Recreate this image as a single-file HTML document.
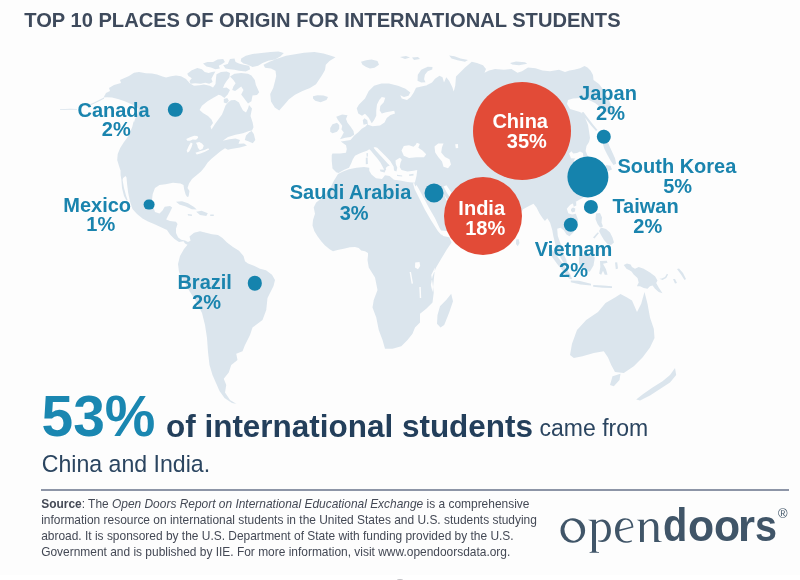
<!DOCTYPE html>
<html><head><meta charset="utf-8"><title>Top 10 places of origin</title>
<style>
html,body{margin:0;padding:0;background:#fff;}
#bg{position:absolute;left:0;top:0;width:800px;height:575px;background:#fdfdfd;}
#mark{position:absolute;left:397.2px;top:579px;width:6px;height:2.4px;border-radius:50%;background:#c4c4c8;}
body{width:800px;height:580px;position:relative;overflow:hidden;font-family:"Liberation Sans",sans-serif;}
.t{position:absolute;white-space:nowrap;line-height:1;}
.ttl{font-weight:bold;color:#3e4a5c;}
.lb{font-weight:bold;color:#1a84ae;}
.wl{color:#fff;}
.big{font-weight:bold;color:#1a87b1;}
.mid{font-weight:bold;color:#233f5b;}
.reg{color:#2b4560;}
.dot{position:absolute;border-radius:50%;background:#1583ad;transform:translate(-50%,-50%);}
.red{position:absolute;border-radius:50%;background:#e24b37;transform:translate(-50%,-50%);}
#map{position:absolute;left:0;top:0;filter:blur(0.45px);}
#txt{position:absolute;left:0;top:0;width:800px;height:580px;will-change:transform;}
#hr{position:absolute;left:41.2px;top:489px;width:747.8px;height:2px;background:#8d95a7;}
#src{position:absolute;left:41.2px;top:495.9px;font-size:11.95px;line-height:16px;color:#444955;white-space:nowrap;}
.dl{font-weight:bold;color:#405568;transform-origin:0 0;}
#reg{left:778px;top:507.3px;font-size:13px;color:#405568;}
</style></head><body>
<div id="bg"></div><div id="mark"></div>
<svg id="map" width="800" height="580" viewBox="0 0 800 580"><path fill="#dbe5ed" d="M129 76 L134 72.8 L139 72 L146 73.2 L152 73.5 L157 74.5 L162.5 76.5 L166 77.5 L171 76.2 L176 75.6 L181 76.2 L186 79 L190 83.5 L194 85.7 L199.6 85.3 L204 84.6 L209.7 85.7 L213 87.5 L215.5 84 L216 78 L216.5 74.2 L221 72 L226.6 71.4 L230 73.1 L229.4 77.6 L226.6 81 L224.4 84.4 L223 88 L226.6 87.5 L230 90 L227.7 94.5 L224.4 97.9 L221 95.5 L218.7 94.7 L213 97.9 L207.5 101.2 L201.9 105.7 L199.6 110 L203 113 L208 116 L211.5 119.5 L213 123 L210.5 126.5 L211.5 129.5 L215 124 L219 118.5 L222 114.5 L224 109.5 L225.5 105.5 L228 102.5 L231 100.3 L235 100 L239 102.5 L240.5 106 L243 110.5 L246 112.5 L248 108.5 L249 105 L252 108.5 L250.5 116 L252.7 122.7 L253.5 127.2 L252 130.5 L249 131 L243 133.2 L235.5 134.7 L228 137 L222.7 140.7 L229.5 139.2 L235.5 138.5 L240 140 L238.5 143.7 L244 143.5 L247 145.5 L240 147.5 L231 149 L228 149.7 L225 148.2 L220.5 151.2 L216 155 L211.5 158.7 L207.7 162.5 L204.7 167 L201 171.5 L196.5 175.2 L192 179 L189 183.5 L187.5 188 L189.5 191 L188.6 196.4 L187.2 197 L185.7 194.7 L184.2 189.5 L183.5 185 L180.5 183.5 L173 182.7 L165.5 184.2 L159.5 185 L155 188 L152.7 194 L152 200 L153.5 207.5 L155 212 L159.5 213.5 L162.5 210.5 L164.7 206.7 L170 206 L172.2 207.5 L170 212 L167.7 216.5 L166.2 219.5 L170 221 L176 221.7 L177.5 224 L176 228.5 L176 233 L178.2 237.5 L181.2 239.7 L185 240.5 L188 242 L191 240.5 L192.5 238 L194 241 L191.5 244.5 L187.5 244.7 L185 243.5 L183.5 241.2 L179 242 L174.5 239 L170 234.5 L167 230 L160.5 227 L154 224 L148 221.5 L142.5 218.5 L137 214 L132.5 209 L130 201.5 L128.2 193 L127.2 185 L126.5 177.5 L125.5 176 L123.2 178 L121 172 L119 166 L117.2 160 L117.7 154 L120.2 148 L124 142 L128.5 136 L132.2 127 L133.7 121 L135.5 129.5 L133 125.5 L135 119 L138 113 L138.5 108.5 L136 106.5 L130 103.5 L124 101 L118 99 L112 97.5 L107 97.2 L103.6 97.6 L106 93 L110 91 L109 88 L114 85 L121 83 L120 80ZM120.5 170 L123.5 176 L122.6 180 L124 188 L126 195.5 L127.6 200 L126.4 200.5 L124 196 L122 188 L121.4 180 L120.6 175ZM60 109.2 L70 108.8 L77 109 L77 109.7 L68 109.8 L60 109.9ZM86 106 L93 103 L100 99.5 L104 97.5 L104 98.8 L97 102.3 L88 106.6ZM246 135.5 L249.3 132.2 L251.7 131 L253.8 134 L255.3 140 L252.8 143.3 L248.2 141.2 L244.8 140ZM176 201.8 L182 201.2 L188 203.3 L194 206.9 L196.7 209.6 L191.8 209.3 L185.8 206.4 L179.3 204.5ZM196.2 211.7 L201.5 210.8 L207.8 213.2 L206.3 215.9 L200 215ZM210.2 214.4 L213.8 214.6 L213.8 215.9 L210.2 215.9ZM187.7 214.1 L191.9 214.4 L191.9 215.9 L188 215.6ZM187.2 73.7 L191.8 70.3 L197.4 68.1 L201.9 69.2 L204.7 72 L208.6 73.1 L212 72 L215.4 71.4 L213.1 75.4 L211.4 78.8 L212.6 82.1 L209.2 83.8 L205.2 82.7 L200.8 83.8 L195.1 83.2 L190.6 83.8 L189.5 81 L191.8 78.2 L188.4 75.9ZM203 63.6 L207.5 61.9 L213.1 61.9 L217.6 59.6 L223.2 59.1 L224.9 61.9 L222.1 64.1 L218.8 65.8 L219.9 68.6 L215.4 69.2 L210.9 67.5 L206.4 66.4ZM223.2 65.2 L227.8 64.1 L230 59.1 L234.5 58.5 L235.6 61.9 L239 63.6 L243.5 64.7 L249.1 65.8 L250.2 69.2 L245.8 71.4 L239 70.7 L234.5 69.8 L230 69.2 L225.5 68.6ZM241.2 58.5 L245.8 55.7 L252.5 54 L261.5 52.9 L270.5 52 L278.4 51.5 L283.8 53.1 L280.6 56.2 L275 59.4 L268.2 60.8 L262.6 63 L258.1 65.8 L252.5 66.9 L248 64.7 L243.5 63.6 L240.7 61.3ZM230 76.5 L234.5 73.7 L241.2 73.1 L248 73.7 L251.4 75.4 L254.8 79.9 L255.9 84.9 L259.2 92.2 L257 95.1 L252.5 95.6 L251.4 101.2 L248 103.5 L244.6 99 L241.2 94.5 L243.5 90 L241.2 86.6 L237.9 88.9 L235.1 91.1 L232.2 90 L233.4 86.6 L235.6 83.2 L233.4 79.9ZM223.8 99 L227.2 97.9 L228.9 100.7 L226.6 103.5 L223.8 102.4ZM263.5 64.8 L269.5 61.8 L277 58.8 L286 55.8 L295 54.2 L304 52.8 L314.5 52 L323.5 53.5 L331 55.8 L335.5 57.2 L329.5 61 L325.8 64.8 L325 70 L322 75.2 L319 79.8 L316 84.2 L310 88 L302.5 91 L295 94.8 L289 99.2 L284.5 104.5 L279.2 110.5 L274.8 107.5 L271 101.5 L270.2 94 L273.2 88 L274.8 82 L276.2 76 L275.5 70.8 L271 68.5 L265 67.8ZM313 96.2 L317.5 95.2 L323.5 95.5 L328 97 L326.5 100 L320.5 102.2 L315.2 100.8 L313 98.5ZM361 61.8 L366.2 60.2 L371.5 59.5 L377.5 61 L379 64.8 L374.5 67.8 L370 68.5 L366.2 67 L362.5 64.8ZM189.5 236.5 L194 232.75 L200 231.25 L206 232.75 L212 234.25 L218 235 L222.5 238 L227 242.5 L233 247 L239 250.75 L243.5 256 L245 261.25 L248 263.5 L254 265.75 L260 268.75 L266 270.25 L272 274.75 L275 280 L273.5 286 L270.5 292 L267.5 298 L266.25 310 L262.5 320 L252.5 327.5 L250 335 L245 345 L242.5 351.25 L236.25 353.75 L237.5 360 L231.25 365 L228.75 372.5 L223.75 378.75 L226.25 385 L225 392.5 L230 400 L236.25 403.75 L240 404.5 L232 403 L224.5 398 L219.5 391 L216 383 L212.5 375 L209.5 365 L208 352 L207 338 L205 325 L202 313 L197 303 L190 292 L184 282 L179 272 L178 264 L180 256 L184 249 L187.5 244.7 L191.5 244.5ZM338.5 173.75 L343 171.5 L349 169.25 L356.5 167.75 L364 167 L369.25 167.75 L369.25 170.75 L371.5 174.5 L376 178.25 L382 179 L385 175.25 L389.5 176 L394 179.75 L400 180.5 L407.5 182 L415 182.75 L418.492 191.759 L423.769 204.07 L429.045 214.623 L434.322 223.417 L439.598 231.332 L443.116 236.08 L449.271 237.136 L451.558 242.412 L446.633 249.799 L441.357 258.593 L436.08 267.387 L432.563 276.181 L430.804 284.975 L432.563 292.01 L435 267.5 L431.25 275 L432.5 282.5 L433.75 292.5 L432.5 302.5 L426.25 308.75 L420 313.75 L420 322.5 L415 327.5 L412.5 333.75 L407.5 340 L401.25 346.25 L392.5 348.75 L385 348.75 L382.5 340 L378.75 330 L376.25 317.5 L372.5 307.5 L373.75 300 L377.5 290 L375 277.5 L368.75 267.5 L367.5 260 L368 255.6 L368 253 L365 251.2 L361.2 250.6 L358.7 248 L355 246.9 L350 247.2 L343.7 248.7 L337.5 250 L333 251.2 L330 249.4 L325 245.6 L321.2 241.2 L317.5 236.2 L314.4 231.2 L312.5 225.6 L313 220 L315 213.7 L313.7 207.5 L316.2 202.5 L320 199.5 L323.5 197 L326.5 192.5 L331 186.5 L334 180.5 L337.7 174.5ZM451.2 293.8 L453 301.2 L449.2 312.5 L444.2 325 L440.5 327.5 L437 323.8 L437.5 315 L440 306.2 L446.2 300ZM340.75 141.5 L346 140.75 L350.5 140 L354.25 135.5 L358 132.5 L361.75 128.75 L365.5 126.5 L367.75 123.8 L363.5 124.75 L362.75 120.25 L364.55 118.3 L367.25 120.25 L368 124.75 L372.5 126.25 L380 125.5 L384.5 122.5 L386.75 118 L390.5 115 L395 113.5 L394.25 110.8 L386 112.3 L381.8 113.5 L379.7 110.5 L380.3 106 L383.75 102.25 L385.25 97.75 L381.8 97 L379.25 100 L377 104.5 L376.25 110.5 L376.25 115.75 L374 120.25 L371.75 123.25 L368.75 117.7 L365 113.8 L362 115.75 L358.25 113.5 L356.75 108.25 L359 104.5 L365 98.5 L368.75 91 L374 85.75 L381.5 83.5 L389 83.5 L398 85.75 L405.5 88.75 L410.3 92.5 L408.5 95.8 L404 97 L400.25 95.2 L401.75 98.5 L407 100 L410.75 97 L413.75 92.5 L416 87.7 L423.5 85.9 L431 84.4 L426 85.5 L432 82.5 L435 78.75 L439.5 75.75 L442.5 77.25 L444 82.5 L446.25 77.25 L449.25 81 L452.25 87 L453.75 91.5 L455.25 85.5 L456 76.5 L459 73.5 L462 70.5 L465 67.5 L469.5 63.75 L471.75 61.8 L477 63 L483 65.25 L486 69 L484.5 72.75 L489 70.5 L495 69 L504 69.75 L511.5 69 L517.5 72.75 L522 71.25 L528 67.5 L535.5 68.25 L542.5 70.5 L550 71.2 L559 69.7 L565 72 L569.5 70.5 L574 69.7 L580 68.2 L584.5 66 L587.5 67.5 L590.5 70.5 L593 75 L593.5 80 L599 84 L602 88 L605 93 L608 98 L611 105 L612 112 L609 113.5 L605 111 L599 106 L595 103 L589 100 L580 98 L573 98.5 L568 100 L567 104 L570 109 L580 112 L584 115 L586 120 L588 125 L589 131 L590 138 L589 142 L586.5 146 L585.6 151 L587.5 155.5 L591 160 L595.5 163.5 L592.5 168 L589.5 165 L585 160.5 L580.5 156 L576 157.5 L573.75 160.5 L577.5 165 L581.25 171 L583.5 177 L586.75 188 L586 194 L583 197.75 L578.5 200.3 L573.25 203.3 L570.25 204.8 L566.8 208.7 L568.3 213.2 L572.2 214.4 L575.8 213.8 L577.9 219.5 L577 227 L572.8 233 L569.5 236.3 L566.5 234.5 L563.8 230.3 L560.5 227.75 L557.2 228.8 L557.8 236 L560.5 243.5 L562.75 249.5 L564 255 L566.25 259.5 L567 264 L565.2 264.75 L562.5 261 L559.5 255.75 L556.5 249 L555 243 L553.3 236 L552.25 230 L550 222.5 L547.3 218.3 L544.9 221 L542.5 218 L539.5 213.5 L536.5 207.5 L533.5 203.75 L529 206 L523 209.3 L520 215 L517 226 L513 238 L509 241 L505 236 L496 226 L482 216 L470 214 L462 211 L456 208 L452 203 L447 199 L444 194.5 L446 199.5 L450 206 L455 212 L461 216 L462 221 L455 228 L446 233 L437 236.5 L431 231 L427 222 L422 212 L417 203 L412.5 193 L412 186 L415 182 L416.5 176 L417.25 170 L413.5 170.75 L407.5 171.5 L401.5 170 L399.7 167 L400.45 162.8 L401.8 159.8 L400 157.7 L397.75 158.9 L395.5 160.4 L395.8 164 L397.3 167.75 L396.4 171.5 L394 170.6 L393.7 166.7 L390.25 161 L385.75 156.2 L381.25 151.7 L377.2 147.8 L374.8 146.9 L373.6 147.8 L376 150.8 L379.9 155 L384.1 159.5 L387.7 163.4 L389.8 165.5 L387.25 166.4 L385.75 167.9 L386.2 169.7 L384.55 170.45 L382.75 167 L380.5 162.8 L377.2 158.3 L373.75 154.25 L370.75 150.5 L369.25 149.3 L367 150.8 L363.25 152 L359.5 153.5 L355 155.75 L352.75 159.5 L351.25 163.25 L349 167.75 L343.75 170 L338.5 173 L336.25 172.25 L332.5 168.5 L331.75 161 L331.75 155 L332.5 153.5 L340 153.5 L346 152.75 L346.75 149 L346 145.25ZM336.2 116.8 L342.2 114.5 L347.5 115.2 L346 119 L347.5 122.8 L350.5 126.5 L353.5 131 L354.2 134.8 L350.5 137 L345.2 137.8 L340 139.2 L342.2 135.5 L343.8 132.5 L341.5 129.5 L342.2 125.8 L340 122.8 L337.8 119.8ZM330.2 128 L332.5 124.2 L337 122.8 L339.2 125 L339.2 128.8 L337 131.8 L332.5 133.2 L330.2 131.8ZM379.8 169.4 L385.8 169.7 L384.6 172.4 L380.5 171.5ZM365.8 157.7 L367.6 157.4 L367.9 164 L365.8 164.3ZM366.4 153.2 L367.9 152.9 L367.9 156.5 L366.7 156.8ZM397 174.8 L402.2 175.4 L402.2 176.4 L397 176ZM409 174.5 L413.5 173.8 L413.5 175.4 L409.3 176ZM417.5 80.7 L417.8 74.7 L421.2 69.8 L427.7 66.8 L432.5 66.9 L432.2 69.6 L427.7 71.2 L424.9 74.7 L424.1 79.2 L425.5 82.2 L421.2 82.4ZM449.2 55.5 L454.5 56.2 L460.5 58.5 L468 60 L465 61.8 L457.5 60.3 L451.5 58.5ZM510 63 L516 61.5 L525 62.2 L527.2 63.8 L519 65.2 L512.2 64.5ZM581.5 112.5 L583.5 112 L588 118 L593 124.5 L597.5 130 L596 131 L591 125.5 L586 119ZM600 130.5 L604.5 129.3 L608.2 132.8 L606.8 139.5 L609.3 145.8 L612.3 152.2 L615 158.2 L616.2 163.8 L613.5 165 L610.5 160.5 L607.2 154.5 L604.2 148.5 L602.2 141.8 L600.8 135.8ZM606 165 L610.5 165.8 L612 169.5 L608.2 171 L605.2 168ZM571 209 L573 207.6 L575.3 208.6 L575 211.4 L572.6 212.4 L571 211ZM572.5 199 L576 199.5 L576.3 205.5 L573.8 206.8 L572.8 203ZM589.3 203.3 L592 203.3 L592.3 210.2 L589.6 210.2ZM596 213.5 L600 213 L602 217.5 L601.5 222.5 L603 226.5 L600 227.5 L597.5 224 L595.5 219ZM601 227.5 L606 229 L610 232.5 L612.5 237.5 L614 242.5 L611 245 L607.5 244 L604 240 L601 235 L599 231ZM593 237.5 L597.5 232.5 L599 233 L594.5 238.5ZM516.2 239.5 L518.6 239 L519.5 243 L517.8 246.3 L516 244ZM549 249 L552.8 250.5 L558 257.2 L564 265.5 L570 273.8 L572.2 279.3 L569.2 278.7 L564 272.2 L557.2 264 L551.2 255.8ZM570.8 280.5 L579 280.8 L591 283.8 L591 285.6 L580.5 284.4 L570.8 282.3ZM579 256.5 L585 254.2 L590.2 253.2 L594.8 257.7 L593.5 265.5 L589.8 271.8 L583.5 270.3 L579 264ZM600 261 L606.8 260.7 L607.5 262.8 L603 263.7 L606 269.2 L607.5 274.8 L604.8 274.8 L603 270.8 L601.2 274.8 L599.2 273.8 L600.3 267ZM593.2 285 L603 285.6 L612 286.2 L612 288 L603 287.7 L593.2 286.8ZM615 262.5 L617.2 262.2 L618 268.5 L615.8 269.2ZM623.7 265 L627 263.5 L630.6 264.4 L632 267 L635 268.7 L638.7 266.9 L643.7 268.7 L650 272.5 L655 276.2 L657.5 280.6 L656.2 283 L658.7 287.5 L661.2 291.2 L662.5 293.3 L658.7 291.9 L655 288.7 L652.5 285.6 L650 286.2 L647.5 288.7 L643.7 288 L640 286.2 L636.9 286.2 L638.7 282.5 L637.5 278 L633.7 274.4 L631.5 271.5 L629 270 L626.5 268.7ZM659.4 278.7 L662.5 280 L666.2 278.1 L668.1 274.4 L666.9 273.7 L665 276.9 L661.9 278.5ZM673 279 L675 279 L677 283 L675 283.5ZM677 269 L679 268.5 L683 273 L686 279 L684.5 280 L681 274.5ZM570 355 L572 343.8 L577 330 L586.2 320 L598 312 L605.5 303 L615 297.5 L620.5 294 L626.2 297 L632 300.5 L637 312 L641.2 303.8 L644.5 292 L647.5 303.8 L650 317.5 L653.8 328.8 L654.5 338 L650 347.5 L642.5 357.5 L633.8 366.2 L623.8 373 L615 372 L611.2 365 L608 357.5 L603.8 351.2 L593.8 353 L582.5 356.2 L573.8 358ZM612.5 376.2 L620.5 373.8 L619.5 380 L613.8 386.2 L610 385ZM675 368 L676.2 375 L670 382.5 L660 389 L650 395.5 L640 400.5 L636.2 399.5 L642.5 394.5 L652.5 387.5 L662.5 381.2 L670 375ZM400 57 L406 56 L410 57.5 L405 59ZM412 57.5 L418 57 L420 59 L414 60Z"/><path fill="#fdfdfd" d="M186.2 139 L190 137.2 L194.2 135.7 L197.5 136 L198.2 137.8 L196 139.8 L192.7 139.4 L190 140.8 L187.4 140.8ZM190.8 142.4 L192.6 143.5 L191.5 147.2 L189.4 151.3 L187.6 152.8 L186.7 150.7 L188.5 146.5ZM196 142.8 L199.3 142 L202 143.5 L203.8 145.8 L202.6 148.8 L199.9 150.2 L197.9 147.7 L197.2 145ZM195.4 152.8 L200.8 151 L205 149.8 L208.3 148.3 L209.2 149.5 L205 151.8 L200.5 153.4 L196.8 154.4ZM415.2 262.5 L419.5 262 L420.2 266 L418 269.2 L415 267.5ZM409.6 272 L411 272 L413 283.5 L411.6 283.8ZM401.5 150.5 L403.8 146 L409 145.2 L413.5 146.8 L415.8 144.8 L416.8 142.7 L419.8 143.9 L418.3 147.8 L422.5 150.5 L426.2 154.2 L424 157.2 L416.5 157.2 L409 158 L403.8 155.8ZM434.5 146.5 L438.2 143.5 L443.5 143.5 L442 147.2 L441.2 152.5 L445 157 L449.5 159.2 L451 164.5 L448 168.2 L443.5 166.8 L442 161.5 L438.2 157 L435.2 152.5ZM455.2 144.2 L457.9 143.9 L458.2 148 L455.8 148.3ZM413 183.5 L414.7 189.3 L420.2 200.2 L424.8 209.5 L431 220.3 L438 231.2 L441 234.5 L450 236.5 L460 236.5 L460 228 L452 229 L446.5 231 L441.1 230.4 L439.6 228.1 L434.9 218 L428.7 207.2 L424 198.6 L418.6 188.5 L416.5 185 L415.3 186.5 L414.2 183ZM443.5 186.5 L446.5 185.3 L451 192 L455 198.5 L459 203 L456 204.5 L451.5 199.5 L447 193ZM419.3 287 L420.8 287 L421.2 298 L419.8 298ZM569 153.5 L571.5 151.3 L573.2 153.6 L577 153 L580 151.5 L583 153 L583.3 157 L580 159 L575 158.5 L571 158.2Z"/></svg>
<div class="red" style="left:522px;top:130.6px;width:98px;height:98px"></div>
<div class="red" style="left:483px;top:215.7px;width:78px;height:78px"></div>
<div class="dot" style="left:175.4px;top:109.5px;width:14.4px;height:14.4px"></div>
<div class="dot" style="left:149.1px;top:204.7px;width:10.8px;height:10.8px"></div>
<div class="dot" style="left:255px;top:283.4px;width:14.4px;height:14.4px"></div>
<div class="dot" style="left:434.2px;top:193.3px;width:19px;height:19px"></div>
<div class="dot" style="left:603.8px;top:136.8px;width:14.4px;height:14.4px"></div>
<div class="dot" style="left:587.5px;top:176.6px;width:41.2px;height:41.2px"></div>
<div class="dot" style="left:590.9px;top:207.3px;width:14.2px;height:14.2px"></div>
<div class="dot" style="left:570.8px;top:224.8px;width:14.4px;height:14.4px"></div>
<div id="txt">
<div class="t ttl" id="title" style="left:24.30px;top:10.00px;font-size:20.11px">TOP 10 PLACES OF ORIGIN FOR INTERNATIONAL STUDENTS</div>
<div class="t lb" id="ca1" style="left:77.44px;top:99.70px;font-size:20.00px">Canada</div>
<div class="t lb" id="ca2" style="left:101.82px;top:119.20px;font-size:20.00px">2%</div>
<div class="t lb" id="mx1" style="left:63.26px;top:194.70px;font-size:20.00px">Mexico</div>
<div class="t lb" id="mx2" style="left:86.35px;top:214.20px;font-size:20.00px">1%</div>
<div class="t lb" id="br1" style="left:177.41px;top:272.00px;font-size:20.00px">Brazil</div>
<div class="t lb" id="br2" style="left:192.11px;top:291.80px;font-size:20.00px">2%</div>
<div class="t lb" id="sa1" style="left:289.74px;top:182.30px;font-size:20.00px">Saudi Arabia</div>
<div class="t lb" id="sa2" style="left:339.68px;top:202.50px;font-size:20.00px">3%</div>
<div class="t lb" id="jp1" style="left:579.09px;top:82.75px;font-size:20.00px">Japan</div>
<div class="t lb" id="jp2" style="left:596.10px;top:103.30px;font-size:20.00px">2%</div>
<div class="t lb" id="sk1" style="left:617.47px;top:156.10px;font-size:20.00px">South Korea</div>
<div class="t lb" id="sk2" style="left:663.15px;top:176.40px;font-size:20.00px">5%</div>
<div class="t lb" id="tw1" style="left:612.40px;top:196.20px;font-size:20.00px">Taiwan</div>
<div class="t lb" id="tw2" style="left:633.35px;top:216.20px;font-size:20.00px">2%</div>
<div class="t lb" id="vn1" style="left:534.87px;top:239.45px;font-size:20.00px">Vietnam</div>
<div class="t lb" id="vn2" style="left:559.06px;top:259.70px;font-size:20.00px">2%</div>
<div class="t lb wl" id="cn1" style="left:492.43px;top:110.50px;font-size:20.00px">China</div>
<div class="t lb wl" id="cn2" style="left:506.79px;top:131.00px;font-size:20.00px">35%</div>
<div class="t lb wl" id="in1" style="left:458.37px;top:197.70px;font-size:20.00px">India</div>
<div class="t lb wl" id="in2" style="left:465.16px;top:217.80px;font-size:20.00px">18%</div>
<div class="t big" id="big" style="left:41.62px;top:388.90px;font-size:56.88px">53%</div>
<div class="t mid" id="mid" style="left:166.03px;top:410.83px;font-size:31.46px">of international students</div>
<div class="t reg" id="came" style="left:539.52px;top:417.48px;font-size:23.00px">came from</div>
<div class="t reg" id="ci" style="left:41.78px;top:452.63px;font-size:23.11px">China and India.</div>
<div id="hr"></div>
<div id="src"><b>Source</b>: The <i>Open Doors Report on International Educational Exchange</i> is a comprehensive<br>information resource on international students in the United States and U.S. students studying<br>abroad. It is sponsored by the U.S. Department of State with funding provided by the U.S.<br>Government and is published by IIE. For more information, visit www.opendoorsdata.org.</div>
<svg id="openlogo" style="position:absolute;left:0;top:0" width="800" height="580" viewBox="0 0 800 580"><g fill="#405568" fill-rule="evenodd">
<ellipse cx="572.8" cy="530.5" rx="12.3" ry="12.2"/><ellipse cx="572.7" cy="530.6" rx="8.1" ry="10.3" transform="rotate(-14 572.7 530.6)" fill="#fdfdfd"/>
<path d="M588 519.8L596 519.8L596 522.2C598 520.3 600 519.5 602.2 519.5C607.2 519.5 610.9 524 610.9 530.7C610.9 537.5 607.2 541.9 602.2 541.9C600.6 541.9 599.2 541.7 598 541.3L598 540.4C599.2 540.7 600.4 540.6 601.7 540.3C604.9 539.5 607 535.5 607 530.7C607 525.4 604.6 521.4 601 521.4C599 521.4 597.3 522.4 596 523.9L596 551C596.2 551.8 597.3 552 599 552.1L599 552.7L589.6 552.7L589.6 552.1C591 552 592 551.8 592 551L592 521.4Z"/>
<path d="M633.3 527.6L633.3 526.5C633 521.8 630 518.3 625 518.3C619 518.3 615 523.5 615 530.8C615 538 619.5 542.7 625.6 542.7C628 542.7 630.3 542.2 632.1 541.2L631.6 540.2C630 541 628 541.3 626.4 541.3C621.9 541.3 619.2 537 619.2 531.3ZM619.5 529.6C620 524 622 519.8 625.3 519.8C629 519.8 631.2 522.5 631.5 526.4Z"/>
<path d="M636.8 519.8L643.9 519.8L643.9 523.3C646 520.6 648.5 519.1 651.2 519.1C655.7 519.1 658.3 522 658.3 527L658.3 538.8C658.3 540.6 659.3 541.3 661.7 541.4L661.7 542L654.2 542L654.2 527.3C654.2 523.3 653 521 650.3 521C648 521 645.6 522.8 643.9 525.6L643.9 542L640 542L640 521.4Z"/>
</g></svg>
<div class="t dl" id="dd" style="left:663.38px;top:502.93px;font-size:45.5px;transform:scaleX(0.8743)">d</div><div class="t dl" id="do1" style="left:687.54px;top:504.63px;font-size:43.5px;transform:scaleX(0.9834)">o</div><div class="t dl" id="do2" style="left:713.78px;top:504.63px;font-size:43.5px;transform:scaleX(0.9824)">o</div><div class="t dl" id="dr" style="left:738.29px;top:504.63px;font-size:43.5px;transform:scaleX(1.0027)">r</div><div class="t dl" id="ds" style="left:755.37px;top:504.63px;font-size:43.5px;transform:scaleX(0.9091)">s</div><div class="t" id="reg">&reg;</div>
</div>
</body></html>
